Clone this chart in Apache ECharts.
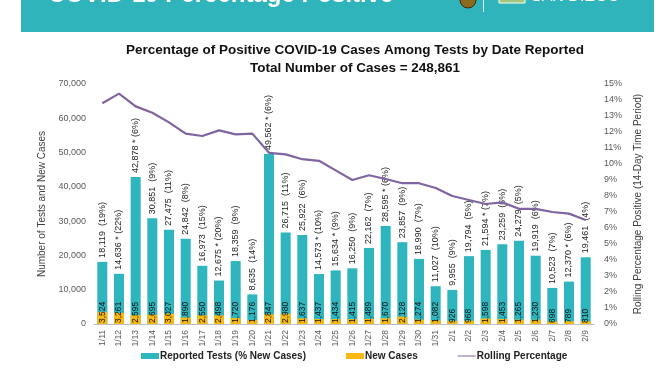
<!DOCTYPE html>
<html><head><meta charset="utf-8">
<script src="https://cdn.jsdelivr.net/npm/echarts@6/dist/echarts.min.js"></script>
<style>html,body{margin:0;padding:0;background:#fff}#c{width:672px;height:372px}</style>
</head><body><div id="c"></div>
<script>
const dates = ['1/11','1/12','1/13','1/14','1/15','1/16','1/17','1/18','1/19','1/20','1/21','1/22','1/23','1/24','1/25','1/26','1/27','1/28','1/29','1/30','1/31','2/1','2/2','2/3','2/4','2/5','2/6','2/7','2/8','2/9'];
const reportedTests = [18119,14636,42878,30851,27475,24842,16973,12675,18359,8635,49562,26715,25922,14573,15634,16250,22162,28595,23857,18990,11027,9955,19794,21594,23259,24279,19919,10523,12370,19461];
const starred = [0,1,1,0,0,0,0,1,0,0,1,0,0,1,1,0,0,1,0,0,0,0,0,1,0,0,0,0,1,0];
const pctNewCases = [19,22,6,9,11,8,15,20,9,14,6,11,6,10,9,9,7,6,9,7,10,9,5,7,6,5,6,7,6,4];
const newCases = [3524,3261,2595,2695,3027,1890,2550,2498,1720,1176,2847,2980,1637,1437,1434,1415,1489,1670,2128,1274,1082,926,968,1598,1453,1265,1230,698,789,810];
const rollingPct = [13.8,14.4,13.6,13.2,12.6,11.9,11.75,12.1,11.85,11.9,10.7,10.6,10.3,10.2,9.6,9.0,9.3,9.06,8.8,8.8,8.5,8.0,7.75,7.5,7.6,7.2,7.2,7.0,6.9,6.5];

const FONT = '"Liberation Sans", Arial, sans-serif';
const fmt = n => n.toLocaleString('en-US');
const chart = echarts.init(document.getElementById('c'), null, {renderer:'canvas'});
chart.setOption({
  animation:false,
  textStyle:{fontFamily:FONT},
  title:{
    text:'Percentage of Positive COVID-19 Cases Among Tests by Date Reported\nTotal Number of Cases = 248,861',
    left:350, textAlign:'center', top:36,
    textStyle:{fontSize:13.5, fontWeight:'bold', color:'#111', lineHeight:18, fontFamily:FONT}
  },
  graphic:[
    {type:'rect', shape:{x:21,y:0,width:633,height:32}, style:{fill:'#30b4bc'}},
    {type:'text', left:48, top:-17, style:{text:'COVID-19 Percentage Positive', fill:'#fff', font:'bold 24px '+FONT}},
    {type:'circle', shape:{cx:468,cy:0,r:8}, style:{fill:'#8a6a1e', stroke:'#3a2a0a', lineWidth:1}},
    {type:'rect', shape:{x:483,y:-10,width:1,height:22}, style:{fill:'#e0f4f5'}},
    {type:'rect', shape:{x:499,y:-8,width:26,height:11}, style:{fill:'#a6c77a', stroke:'#fff', lineWidth:1}},
    {type:'text', left:531, top:-11, style:{text:'SAN DIEGO', fill:'#fff', font:'16px '+FONT}}
  ],
  legend:{
    bottom:6, left:136, itemGap:40, itemWidth:18, itemHeight:6,
    textStyle:{fontSize:10, fontWeight:'bold', color:'#222', padding:[0,0,0,-4]},
    data:[
      {name:'Reported Tests (% New Cases)', icon:'rect'},
      {name:'New Cases', icon:'rect'},
      {name:'Rolling Percentage', icon:'path://M0,2.5 L18,2.5 L18,3.5 L0,3.5 Z'}
    ]
  },
  grid:{left:94, right:78, top:84, bottom:48},
  xAxis:{
    type:'category', data:dates,
    axisLine:{lineStyle:{color:'#bfbfbf'}}, axisTick:{show:false},
    axisLabel:{rotate:90, fontSize:8.5, color:'#595959', margin:6, interval:0}
  },
  yAxis:[
    {type:'value', min:0, max:70000, interval:10000,
     name:'Number of Tests and New Cases', nameLocation:'middle', nameGap:47, nameRotate:90,
     nameTextStyle:{fontSize:10, color:'#404040'},
     axisLabel:{fontSize:9, color:'#595959', formatter:v=>fmt(v)},
     splitLine:{show:false}, axisLine:{show:false}, axisTick:{show:false}},
    {type:'value', min:0, max:15, interval:1,
     name:'Rolling Percentage Positive (14-Day Time Period)', nameLocation:'middle', nameGap:34, nameRotate:90,
     nameTextStyle:{fontSize:10, color:'#404040'},
     axisLabel:{fontSize:9, color:'#595959', formatter:'{value}%', margin:10},
     splitLine:{show:false}, axisLine:{show:false}, axisTick:{show:false}}
  ],
  series:[
    {name:'Reported Tests (% New Cases)', type:'bar', data:reportedTests, barWidth:10, barGap:'-100%',
     itemStyle:{color:'#2fb5bd'},
     label:{show:true, position:'top', rotate:90, align:'left', verticalAlign:'middle', distance:4,
       fontSize:9, color:'#222',
       formatter:p=>fmt(p.value)+(starred[p.dataIndex]?' * ':'  ')+'('+pctNewCases[p.dataIndex]+'%)'}},
    {name:'New Cases', type:'bar', data:newCases, barWidth:10,
     itemStyle:{color:'#f8b910'}, z:3,
     label:{show:true, position:'insideBottom', rotate:90, align:'left', verticalAlign:'middle', distance:1,
       fontSize:8.5, color:'#111', formatter:p=>fmt(p.value)}},
    {name:'Rolling Percentage', type:'line', yAxisIndex:1, data:rollingPct, symbol:'none',
     lineStyle:{color:'#8064a2', width:2.2}, itemStyle:{color:'#8064a2'}, z:4}
  ]
});
</script></body></html>
